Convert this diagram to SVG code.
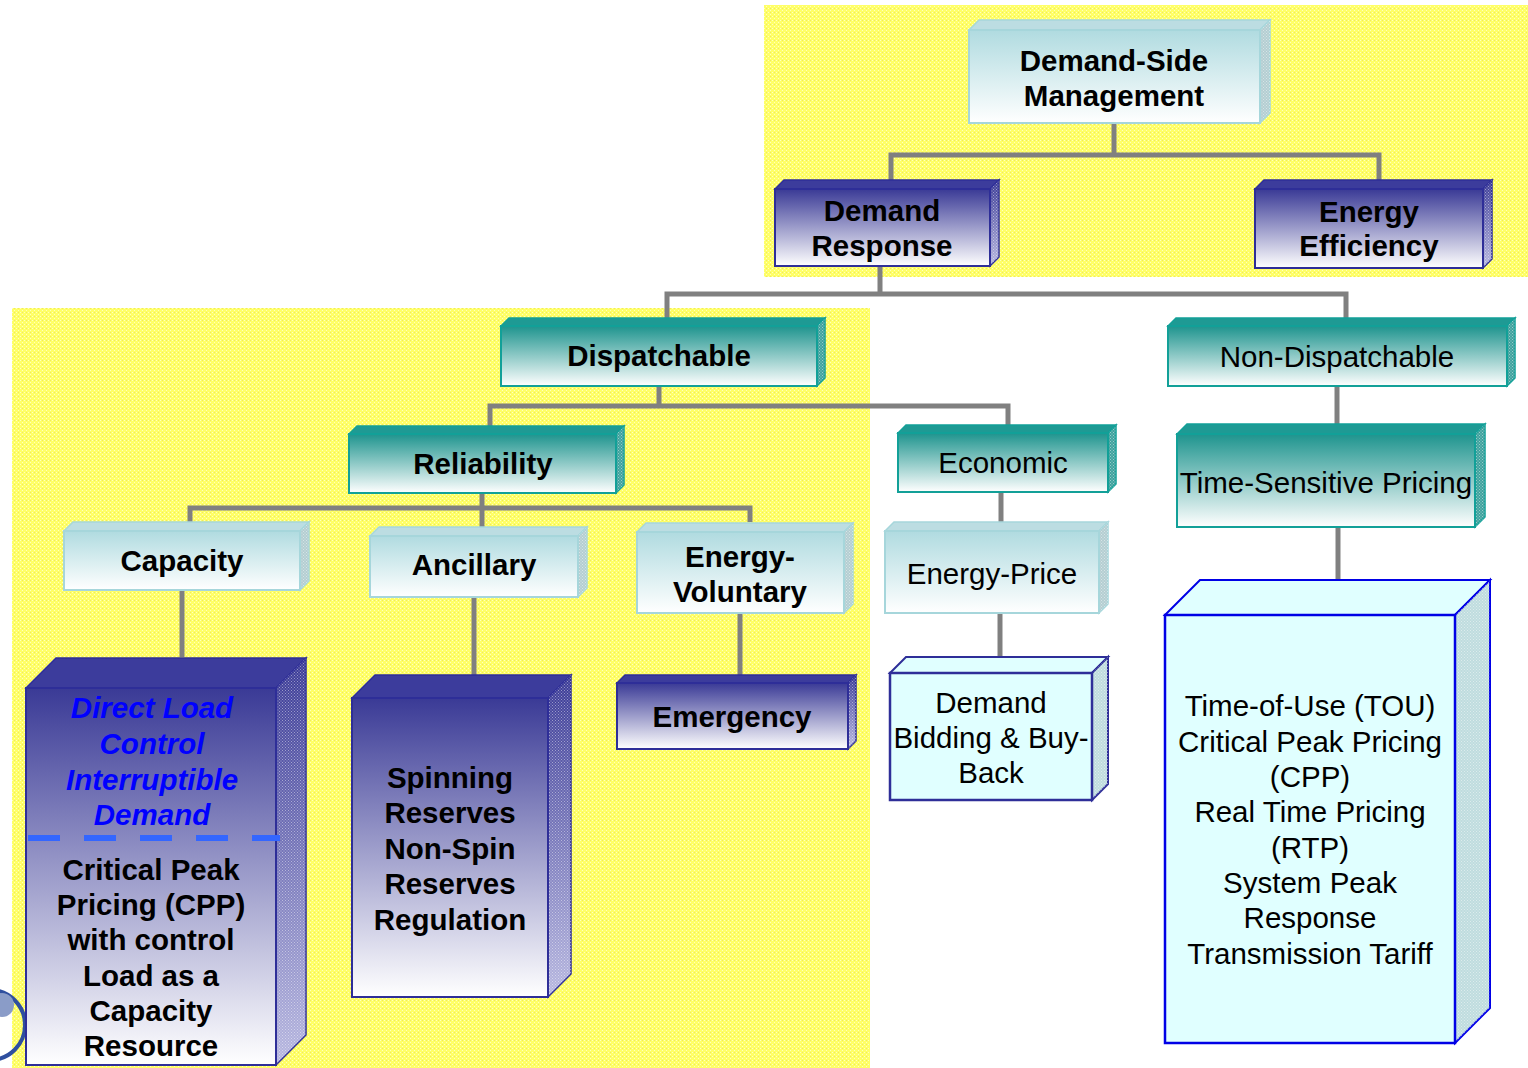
<svg xmlns="http://www.w3.org/2000/svg" width="1528" height="1068" viewBox="0 0 1528 1068">
<defs>
<pattern id="yel" width="4" height="4" patternUnits="userSpaceOnUse">
<rect width="4" height="4" fill="#FFFF66"/>
<rect x="0" y="0" width="1" height="1" fill="#FFFFC0"/>
<rect x="2" y="2" width="1" height="1" fill="#FFFFC0"/>
<rect x="2" y="0" width="1" height="1" fill="#EEE860"/>
</pattern>
<pattern id="dots" width="3" height="3" patternUnits="userSpaceOnUse">
<rect x="0" y="0" width="1" height="1" fill="#FFFFFF" fill-opacity="0.45"/>
<rect x="1.5" y="1.5" width="1" height="1" fill="#FFFFFF" fill-opacity="0.45"/>
</pattern>
<linearGradient id="gNavy" x1="0" y1="0" x2="0" y2="1">
<stop offset="0" stop-color="#3A3A96"/>
<stop offset="1" stop-color="#FFFFFF"/>
</linearGradient>
<linearGradient id="gNavySide" x1="0" y1="0" x2="0" y2="1">
<stop offset="0" stop-color="#3A3A96"/>
<stop offset="1" stop-color="#B8B8E0"/>
</linearGradient>
<linearGradient id="gTeal" x1="0" y1="0" x2="0" y2="1">
<stop offset="0" stop-color="#1E948E"/>
<stop offset="1" stop-color="#FFFFFF"/>
</linearGradient>
<linearGradient id="gCyan" x1="0" y1="0" x2="0" y2="1">
<stop offset="0" stop-color="#B0DBE0"/>
<stop offset="1" stop-color="#FFFFFF"/>
</linearGradient>
</defs>
<style>
.navyF{fill:url(#gNavy);stroke:#2E2E98;stroke-width:2}
.navyT{fill:#3C3C9C;stroke:#2E2E98;stroke-width:1.5}
.navyS{fill:url(#gNavySide);stroke:#2E2E98;stroke-width:1.5}
.tealF{fill:url(#gTeal);stroke:#12A098;stroke-width:2}
.tealT{fill:#1E9A94;stroke:#12A098;stroke-width:1.5}
.tealS{fill:#3FA29E;stroke:#12A098;stroke-width:1.5}
.cyanF{fill:url(#gCyan);stroke:#A6D6DB;stroke-width:2}
.cyanT{fill:#BCDDE2;stroke:#A6D6DB;stroke-width:1.5}
.cyanS{fill:#B4CED2;stroke:#A6D6DB;stroke-width:1.5}
.lcF{fill:#E0FFFF}
.lcS{fill:#BFDCDE}
.dots{fill:url(#dots);stroke:none}
.conn{fill:none;stroke:#808080;stroke-width:5}
text{font-family:"Liberation Sans",Arial,sans-serif;font-size:29.5px;text-anchor:middle;fill:#000}
.b{font-weight:bold}
.blue{font-weight:bold;font-style:italic;fill:#0000FF}
</style>
<rect x="764" y="5" width="764" height="272" fill="url(#yel)"/>
<rect x="12" y="308" width="858" height="760" fill="url(#yel)"/>
<g id="decor">
<circle cx="-10" cy="1025" r="35" fill="none" stroke="#2F4F9F" stroke-width="4"/>
<circle cx="2" cy="1005" r="12" fill="#8A9CC8"/>
</g>
<g id="connectors">
<path class="conn" d="M1114 123V155M891 180V155H1379V180"/>
<path class="conn" d="M880 266V294M667 318V294H1346V318"/>
<path class="conn" d="M659 386V406M490 426V406H1008V425"/>
<path class="conn" d="M1337 386V425"/>
<path class="conn" d="M482 493V508M190 522V508H750V522M482 508V527"/>
<path class="conn" d="M1001 492V523"/>
<path class="conn" d="M182 590V657"/>
<path class="conn" d="M474 597V675"/>
<path class="conn" d="M740 613V675"/>
<path class="conn" d="M1000 613V657"/>
<path class="conn" d="M1338 527V580"/>
</g>
<g id="dsm">
<polygon class="cyanT" points="969,30 979,20 1270,20 1260,30"/>
<polygon class="cyanS" points="1260,30 1270,20 1270,113 1260,123"/>
<polygon class="dots" points="1260,30 1270,20 1270,113 1260,123"/>
<rect class="cyanF" x="969" y="30" width="291" height="93"/>
<text class="b" x="1114" y="71">Demand-Side</text>
<text class="b" x="1114" y="106">Management</text>
</g>
<g id="demand-response">
<polygon class="navyT" points="775,189 784,180 999,180 990,189"/>
<polygon class="navyS" points="990,189 999,180 999,257 990,266"/>
<polygon class="dots" points="990,189 999,180 999,257 990,266"/>
<rect class="navyF" x="775" y="189" width="215" height="77"/>
<text class="b" x="882" y="221">Demand</text>
<text class="b" x="882" y="256">Response</text>
</g>
<g id="energy-efficiency">
<polygon class="navyT" points="1255,189 1264,180 1492,180 1483,189"/>
<polygon class="navyS" points="1483,189 1492,180 1492,259 1483,268"/>
<polygon class="dots" points="1483,189 1492,180 1492,259 1483,268"/>
<rect class="navyF" x="1255" y="189" width="228" height="79"/>
<text class="b" x="1369" y="222">Energy</text>
<text class="b" x="1369" y="256">Efficiency</text>
</g>
<g id="dispatchable">
<polygon class="tealT" points="501,326 509,318 825,318 817,326"/>
<polygon class="tealS" points="817,326 825,318 825,378 817,386"/>
<polygon class="dots" points="817,326 825,318 825,378 817,386"/>
<rect class="tealF" x="501" y="326" width="316" height="60"/>
<text class="b" x="659" y="366">Dispatchable</text>
</g>
<g id="non-dispatchable">
<polygon class="tealT" points="1168,326 1176,318 1515,318 1507,326"/>
<polygon class="tealS" points="1507,326 1515,318 1515,378 1507,386"/>
<polygon class="dots" points="1507,326 1515,318 1515,378 1507,386"/>
<rect class="tealF" x="1168" y="326" width="339" height="60"/>
<text x="1337" y="367">Non-Dispatchable</text>
</g>
<g id="reliability">
<polygon class="tealT" points="349,434 357,426 624,426 616,434"/>
<polygon class="tealS" points="616,434 624,426 624,485 616,493"/>
<polygon class="dots" points="616,434 624,426 624,485 616,493"/>
<rect class="tealF" x="349" y="434" width="267" height="59"/>
<text class="b" x="483" y="474">Reliability</text>
</g>
<g id="economic">
<polygon class="tealT" points="898,433 906,425 1116,425 1108,433"/>
<polygon class="tealS" points="1108,433 1116,425 1116,484 1108,492"/>
<polygon class="dots" points="1108,433 1116,425 1116,484 1108,492"/>
<rect class="tealF" x="898" y="433" width="210" height="59"/>
<text x="1003" y="473">Economic</text>
</g>
<g id="time-sensitive-pricing">
<polygon class="tealT" points="1177,434 1187,424 1485,424 1475,434"/>
<polygon class="tealS" points="1475,434 1485,424 1485,517 1475,527"/>
<polygon class="dots" points="1475,434 1485,424 1485,517 1475,527"/>
<rect class="tealF" x="1177" y="434" width="298" height="93"/>
<text x="1326" y="493">Time-Sensitive Pricing</text>
</g>
<g id="capacity">
<polygon class="cyanT" points="64,531 73,522 309,522 300,531"/>
<polygon class="cyanS" points="300,531 309,522 309,581 300,590"/>
<polygon class="dots" points="300,531 309,522 309,581 300,590"/>
<rect class="cyanF" x="64" y="531" width="236" height="59"/>
<text class="b" x="182" y="571">Capacity</text>
</g>
<g id="ancillary">
<polygon class="cyanT" points="370,536 379,527 587,527 578,536"/>
<polygon class="cyanS" points="578,536 587,527 587,588 578,597"/>
<polygon class="dots" points="578,536 587,527 587,588 578,597"/>
<rect class="cyanF" x="370" y="536" width="208" height="61"/>
<text class="b" x="474" y="575">Ancillary</text>
</g>
<g id="energy-voluntary">
<polygon class="cyanT" points="637,532 646,523 853,523 844,532"/>
<polygon class="cyanS" points="844,532 853,523 853,604 844,613"/>
<polygon class="dots" points="844,532 853,523 853,604 844,613"/>
<rect class="cyanF" x="637" y="532" width="207" height="81"/>
<text class="b" x="740" y="567">Energy-</text>
<text class="b" x="740" y="602">Voluntary</text>
</g>
<g id="energy-price">
<polygon class="cyanT" points="885,531 894,522 1108,522 1099,531"/>
<polygon class="cyanS" points="1099,531 1108,522 1108,604 1099,613"/>
<polygon class="dots" points="1099,531 1108,522 1108,604 1099,613"/>
<rect class="cyanF" x="885" y="531" width="214" height="82"/>
<text x="992" y="584">Energy-Price</text>
</g>
<g id="direct-load-control">
<polygon class="navyT" points="26,688 56,658 306,658 276,688"/>
<polygon class="navyS" points="276,688 306,658 306,1035 276,1065"/>
<polygon class="dots" points="276,688 306,658 306,1035 276,1065"/>
<rect class="navyF" x="26" y="688" width="250" height="377"/>
<line x1="28" y1="838" x2="280" y2="838" stroke="#3366FF" stroke-width="6" stroke-dasharray="32 24"/>
<text class="blue" x="152" y="718">Direct Load</text>
<text class="blue" x="152" y="754">Control</text>
<text class="blue" x="152" y="790">Interruptible</text>
<text class="blue" x="152" y="825">Demand</text>
<text class="b" x="151" y="880">Critical Peak</text>
<text class="b" x="151" y="915">Pricing (CPP)</text>
<text class="b" x="151" y="950">with control</text>
<text class="b" x="151" y="986">Load as a</text>
<text class="b" x="151" y="1021">Capacity</text>
<text class="b" x="151" y="1056">Resource</text>
</g>
<g id="spinning-reserves">
<polygon class="navyT" points="352,698 375,675 571,675 548,698"/>
<polygon class="navyS" points="548,698 571,675 571,974 548,997"/>
<polygon class="dots" points="548,698 571,675 571,974 548,997"/>
<rect class="navyF" x="352" y="698" width="196" height="299"/>
<text class="b" x="450" y="788">Spinning</text>
<text class="b" x="450" y="823">Reserves</text>
<text class="b" x="450" y="859">Non-Spin</text>
<text class="b" x="450" y="894">Reserves</text>
<text class="b" x="450" y="930">Regulation</text>
</g>
<g id="emergency">
<polygon class="navyT" points="617,683 625,675 856,675 848,683"/>
<polygon class="navyS" points="848,683 856,675 856,741 848,749"/>
<polygon class="dots" points="848,683 856,675 856,741 848,749"/>
<rect class="navyF" x="617" y="683" width="231" height="66"/>
<text class="b" x="732" y="727">Emergency</text>
</g>
<g id="demand-bidding">
<polygon class="lcF" points="890,673 906,657 1108,657 1092,673" stroke="#2E2E98" stroke-width="2"/>
<polygon class="lcS" points="1092,673 1108,657 1108,784 1092,800" stroke="#2E2E98" stroke-width="2"/>
<polygon class="dots" points="1092,673 1108,657 1108,784 1092,800"/>
<rect class="lcF" x="890" y="673" width="202" height="127" stroke="#2E2E98" stroke-width="2.5"/>
<text x="991" y="713">Demand</text>
<text x="991" y="748">Bidding &amp; Buy-</text>
<text x="991" y="783">Back</text>
</g>
<g id="tou">
<polygon class="lcF" points="1165,615 1200,580 1490,580 1455,615" stroke="#0000E6" stroke-width="2"/>
<polygon class="lcS" points="1455,615 1490,580 1490,1008 1455,1043" stroke="#0000E6" stroke-width="2"/>
<polygon class="dots" points="1455,615 1490,580 1490,1008 1455,1043"/>
<rect class="lcF" x="1165" y="615" width="290" height="428" stroke="#0000E6" stroke-width="2.5"/>
<text x="1310" y="716">Time-of-Use (TOU)</text>
<text x="1310" y="752">Critical Peak Pricing</text>
<text x="1310" y="787">(CPP)</text>
<text x="1310" y="822">Real Time Pricing</text>
<text x="1310" y="858">(RTP)</text>
<text x="1310" y="893">System Peak</text>
<text x="1310" y="928">Response</text>
<text x="1310" y="964">Transmission Tariff</text>
</g>
</svg>
